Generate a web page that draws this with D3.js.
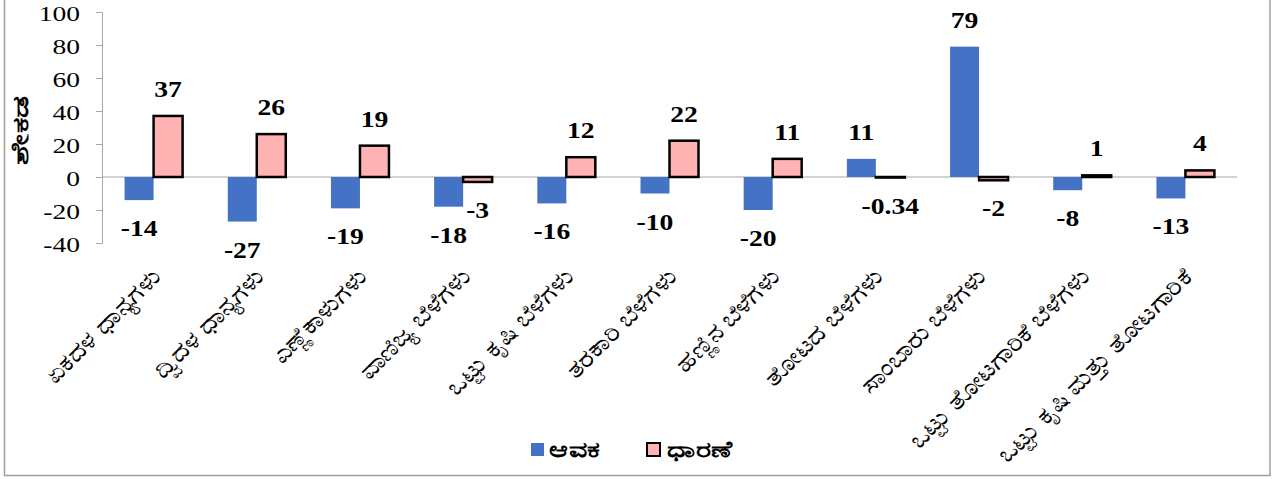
<!DOCTYPE html>
<html>
<head>
<meta charset="utf-8">
<script src="https://cdn.jsdelivr.net/npm/d3@7"></script>
<style>
  html, body { margin: 0; padding: 0; background: #fff; }
  svg { display: block; }
</style>
</head>
<body>
<svg id="chart" width="1277" height="479"></svg>
<script>
// ---- data ----
const categories = [
  "ಏಕದಳ ಧಾನ್ಯಗಳು",
  "ದ್ವಿದಳ ಧಾನ್ಯಗಳು",
  "ಎಣ್ಣೆಕಾಳುಗಳು",
  "ವಾಣಿಜ್ಯ ಬೆಳೆಗಳು",
  "ಒಟ್ಟು ಕೃಷಿ ಬೆಳೆಗಳು",
  "ತರಕಾರಿ ಬೆಳೆಗಳು",
  "ಹಣ್ಣಿನ ಬೆಳೆಗಳು",
  "ತೋಟದ ಬೆಳೆಗಳು",
  "ಸಾಂಬಾರು ಬೆಳೆಗಳು",
  "ಒಟ್ಟು ತೋಟಗಾರಿಕೆ ಬೆಳೆಗಳು",
  "ಒಟ್ಟು ಕೃಷಿ ಮತ್ತು ತೋಟಗಾರಿಕೆ"
];
const arrivals = [-14, -27, -19, -18, -16, -10, -20, 11, 79, -8, -13];   // ಆವಕ
const prices   = [37, 26, 19, -3, 12, 22, 11, -0.34, -2, 1, 4];          // ಧಾರಣೆ
const seriesNames = ["ಆವಕ", "ಧಾರಣೆ"];
const yTicks = [-40, -20, 0, 20, 40, 60, 80, 100];
const yTitle = "ಶೇಕಡ";

// ---- layout ----
const svg = d3.select("#chart");
const plotLeft = 102, plotRight = 1237, plotTop = 12, plotBottom = 243;
const blue = "#4472C4", pink = "#FFB3B3";
const axisGray = "#a6a6a6";
const serif = "Liberation Serif";
const sans = "Noto Sans";

function stretchText(sel, k) {
  sel.each(function () {
    const len = this.getComputedTextLength();
    if (len > 0) d3.select(this).attr("textLength", len * k).attr("lengthAdjust", "spacingAndGlyphs");
  });
}

// outer border
svg.append("rect")
  .attr("x", 4.5).attr("y", -2).attr("width", 1265.5).attr("height", 477.5)
  .attr("fill", "none").attr("stroke", "#a0a0a0").attr("stroke-width", 1.5);

const x = d3.scaleBand().domain(categories).range([plotLeft, plotRight]).paddingInner(0).paddingOuter(0);
const y = d3.scaleLinear().domain([-40, 100]).range([plotBottom, plotTop]);
const barW = 29;
const sub = d3.scaleBand().domain(seriesNames).range([-barW, barW]);

// y axis
const yAxis = svg.append("g")
  .attr("transform", `translate(${plotLeft},0)`)
  .call(d3.axisLeft(y).tickValues(yTicks).tickSize(6).tickSizeOuter(6).tickFormat(d => String(d)));
yAxis.attr("font-family", serif).attr("font-size", 22);
yAxis.select(".domain").attr("stroke", axisGray);
yAxis.selectAll(".tick line").attr("stroke", axisGray);
yAxis.selectAll(".tick text")
  .attr("x", -22).attr("dy", null).attr("y", 8)
  .attr("text-anchor", "end")
  .attr("font-family", serif).attr("font-size", 22).attr("fill", "#000")
  .call(stretchText, 1.25);

// zero line
svg.append("line")
  .attr("x1", plotLeft).attr("x2", plotRight)
  .attr("y1", y(0)).attr("y2", y(0))
  .attr("stroke", axisGray).attr("stroke-width", 1.2);

// bars
const rows = categories.map((c, i) => ({ cat: c, vals: [arrivals[i], prices[i]] }));
const groups = svg.append("g").selectAll("g").data(rows).join("g")
  .attr("transform", d => `translate(${x(d.cat) + x.bandwidth() / 2},0)`);

groups.selectAll("rect").data(d => d.vals.map((v, k) => ({ v, k }))).join("rect")
  .attr("x", d => sub(seriesNames[d.k]))
  .attr("width", sub.bandwidth())
  .attr("y", d => Math.min(y(d.v), y(0)))
  .attr("height", d => Math.max(Math.abs(y(d.v) - y(0)), 0.5))
  .attr("fill", d => d.k === 0 ? blue : pink)
  .attr("stroke", d => d.k === 0 ? "none" : "#000")
  .attr("stroke-width", d => d.k === 0 ? 0 : 2.5);

// data labels
groups.selectAll("text").data(d => d.vals.map((v, k) => ({ v, k }))).join("text")
  .attr("text-anchor", "middle")
  .attr("x", d => sub(seriesNames[d.k]) + sub.bandwidth() / 2)
  .attr("y", d => d.v >= 0 ? y(d.v) - 19 : y(d.v) + 36)
  .attr("font-family", serif).attr("font-size", 24).attr("font-weight", "bold")
  .text(d => String(d.v))
  .call(stretchText, 1.15);

// x category labels
svg.append("g").selectAll("text").data(categories).join("text")
  .attr("transform", d => `translate(${x(d) + x.bandwidth() / 2 + 2},271) rotate(-45)`)
  .attr("text-anchor", "end")
  .attr("dominant-baseline", "central")
  .attr("font-family", sans).attr("font-size", 24)
  .text(d => d)
  .call(stretchText, 1.12);

// y title
svg.append("text")
  .attr("transform", "translate(19,130) rotate(-90)")
  .attr("text-anchor", "middle").attr("dominant-baseline", "central")
  .attr("font-family", sans).attr("font-size", 23).attr("font-weight", "bold")
  .text(yTitle)
  .call(stretchText, 1.5);

// legend
const legend = svg.append("g");
const legendItems = [
  { name: seriesNames[0], x: 531, fill: blue, stroke: "none", sw: 0, tx: 549 },
  { name: seriesNames[1], x: 647, fill: pink, stroke: "#000", sw: 2, tx: 667 }
];
legend.selectAll("rect").data(legendItems).join("rect")
  .attr("x", d => d.x).attr("y", 443).attr("width", 13).attr("height", 13)
  .attr("fill", d => d.fill).attr("stroke", d => d.stroke).attr("stroke-width", d => d.sw);
legend.selectAll("text").data(legendItems).join("text")
  .attr("x", d => d.tx).attr("y", 448)
  .attr("dominant-baseline", "central")
  .attr("font-family", sans).attr("font-size", 22).attr("font-weight", "bold")
  .text(d => d.name)
  .call(stretchText, 1.3);
</script>
</body>
</html>
